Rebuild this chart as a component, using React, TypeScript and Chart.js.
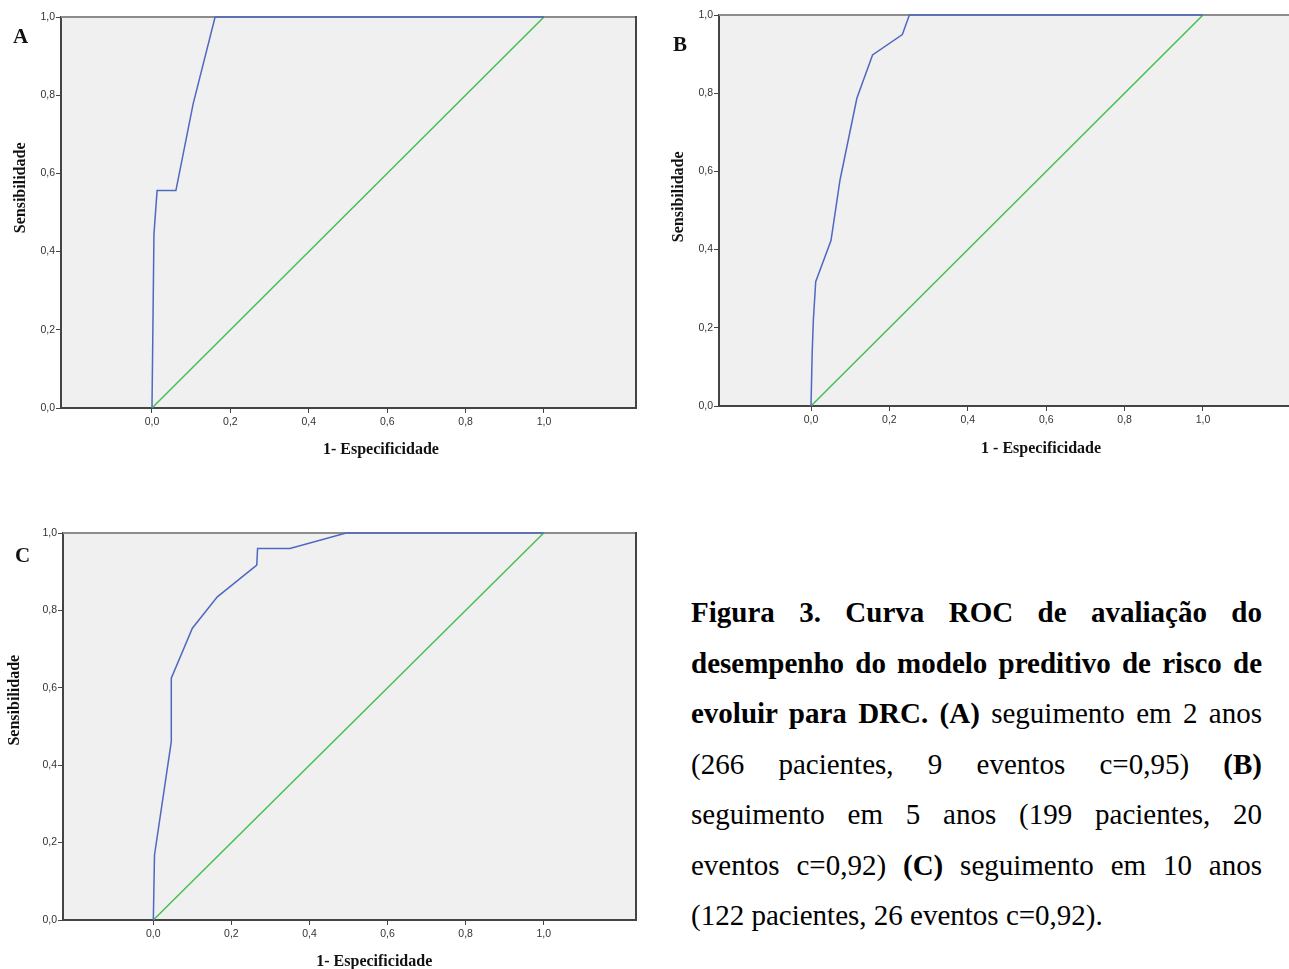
import React, { useEffect, useRef } from 'react';
import { Chart, registerables } from 'chart.js';

Chart.register(...registerables);

// ---- data ----
const tickValues = [0, 0.2, 0.4, 0.6, 0.8, 1.0];
const diagX = [0, 1];
const diagY = [0, 1];

const rocAx = [0, 0.005, 0.013, 0.061, 0.105, 0.161, 1.0];
const rocAy = [0, 0.444, 0.556, 0.556, 0.778, 1.0, 1.0];

const rocBx = [0, 0.003, 0.006, 0.012, 0.051, 0.074, 0.117, 0.157, 0.233, 0.251, 1.0];
const rocBy = [0, 0.135, 0.22, 0.318, 0.423, 0.578, 0.787, 0.898, 0.95, 1.0, 1.0];

const rocCx = [0, 0.003, 0.046, 0.046, 0.1, 0.164, 0.265, 0.267, 0.35, 0.494, 1.0];
const rocCy = [0, 0.168, 0.461, 0.625, 0.754, 0.835, 0.917, 0.96, 0.96, 1.0, 1.0];

const yTitle = 'Sensibilidade';

const BLUE = '#5068c0';
const GREEN = '#45c050';
const TICK_FONT = { family: '"Liberation Sans", Arial, sans-serif', size: 10.5 };
const TITLE_FONT = 'bold 16px "Liberation Serif", "Times New Roman", serif';

const fmt = (v: number) => v.toFixed(1).replace('.', ',');

const framePlugin = {
  id: 'frame',
  beforeDraw(chart: any) {
    const { ctx, chartArea: a } = chart;
    ctx.save();
    ctx.fillStyle = '#f0f0f0';
    ctx.fillRect(a.left, a.top, a.right - a.left, a.bottom - a.top);
    ctx.restore();
  },
  beforeDatasetsDraw(chart: any, _args: any, opts: any) {
    const { ctx, chartArea: a } = chart;
    ctx.save();
    ctx.lineWidth = 2;
    ctx.strokeStyle = '#8c8c8c';
    ctx.beginPath();
    ctx.moveTo(a.left, a.top);
    ctx.lineTo(a.right + 1, a.top);
    ctx.stroke();
    if (opts.rightBorder) {
      ctx.strokeStyle = '#444';
      ctx.beginPath();
      ctx.moveTo(a.right, a.top - 1);
      ctx.lineTo(a.right, a.bottom);
      ctx.stroke();
    }
    ctx.restore();
  },
  afterDraw(chart: any, _args: any, opts: any) {
    const { ctx } = chart;
    const xs = chart.scales.x;
    const ys = chart.scales.y;
    ctx.save();
    ctx.font = TITLE_FONT;
    ctx.fillStyle = '#111';
    ctx.textAlign = 'center';
    ctx.textBaseline = 'alphabetic';
    ctx.fillText(opts.xTitle, xs.getPixelForValue(opts.xTitleAt), opts.xTitleY);
    ctx.translate(opts.yTitleX, ys.getPixelForValue(opts.yTitleAt));
    ctx.rotate(-Math.PI / 2);
    ctx.fillText(opts.yTitle, 0, 0);
    ctx.restore();
  },
};

type RocProps = {
  left: number; top: number; width: number; height: number;
  padTop: number; padRight: number; yAxisWidth: number; xAxisHeight: number;
  xMin: number; xMax: number;
  rocX: number[]; rocY: number[];
  xTitle: string; xTitleAt: number; xTitleY: number;
  yTitleAt: number; yTitleX: number; rightBorder: boolean;
};

function RocChart(p: RocProps) {
  const ref = useRef<HTMLCanvasElement>(null);
  useEffect(() => {
    if (!ref.current) return;
    const axisCommon = {
      type: 'linear' as const,
      afterBuildTicks: (s: any) => { s.ticks = tickValues.map((v) => ({ value: v })); },
      ticks: {
        font: TICK_FONT, color: '#333', autoSkip: false, maxRotation: 0,
        callback: (v: any) => fmt(Number(v)),
      },
      grid: { drawOnChartArea: false, drawTicks: true, tickLength: 5, color: '#444', lineWidth: 1 },
      border: { display: true, color: '#444', width: 2 },
    };
    const chart = new Chart(ref.current, {
      type: 'line',
      data: {
        datasets: [
          {
            data: p.rocX.map((x, i) => ({ x, y: p.rocY[i] })),
            borderColor: BLUE, borderWidth: 1.5, pointRadius: 0, tension: 0, fill: false, clip: false,
          },
          {
            data: diagX.map((x, i) => ({ x, y: diagY[i] })),
            borderColor: GREEN, borderWidth: 1.5, pointRadius: 0, tension: 0, fill: false, clip: false,
          },
        ],
      },
      options: {
        animation: false,
        responsive: false,
        layout: { padding: { top: p.padTop, right: p.padRight, left: 0, bottom: 0 } },
        plugins: {
          legend: { display: false },
          tooltip: { enabled: false },
          frame: {
            xTitle: p.xTitle, xTitleAt: p.xTitleAt, xTitleY: p.xTitleY,
            yTitle, yTitleAt: p.yTitleAt, yTitleX: p.yTitleX, rightBorder: p.rightBorder,
          },
        } as any,
        scales: {
          x: {
            ...axisCommon, min: p.xMin, max: p.xMax,
            ticks: { ...axisCommon.ticks, padding: 3 },
            afterFit: (s: any) => { s.height = p.xAxisHeight; },
          },
          y: {
            ...axisCommon, min: 0, max: 1,
            ticks: { ...axisCommon.ticks, padding: 1 },
            afterFit: (s: any) => { s.width = p.yAxisWidth; },
          },
        } as any,
      },
      plugins: [framePlugin as any],
    });
    return () => chart.destroy();
  }, []);
  return (
    <canvas
      ref={ref}
      width={p.width}
      height={p.height}
      style={{ position: 'absolute', left: p.left, top: p.top, width: p.width, height: p.height }}
    />
  );
}

const letterStyle: React.CSSProperties = {
  position: 'absolute',
  fontFamily: '"Liberation Serif", "Times New Roman", serif',
  fontWeight: 'bold',
  fontSize: 21,
  lineHeight: '21px',
  color: '#111',
};

const lineJ: React.CSSProperties = { textAlign: 'justify', textAlignLast: 'justify', whiteSpace: 'nowrap' as any };

export default function App() {
  return (
    <div style={{ position: 'absolute', left: 0, top: 0, width: 1289, height: 969, overflow: 'hidden', background: '#fff' }}>
      <RocChart
        left={0} top={0} width={645} height={465}
        padTop={17} padRight={9} yAxisWidth={61} xAxisHeight={57}
        xMin={-0.2321} xMax={1.2347}
        rocX={rocAx} rocY={rocAy}
        xTitle="1- Especificidade" xTitleAt={0.584} xTitleY={454}
        yTitleAt={0.563} yTitleX={25} rightBorder={true}
      />
      <RocChart
        left={658} top={0} width={631} height={465}
        padTop={15} padRight={0} yAxisWidth={61} xAxisHeight={59}
        xMin={-0.2347} xMax={1.2194}
        rocX={rocBx} rocY={rocBy}
        xTitle="1 - Especificidade" xTitleAt={0.587} xTitleY={453}
        yTitleAt={0.535} yTitleX={25} rightBorder={false}
      />
      <RocChart
        left={2} top={516} width={641} height={453}
        padTop={17} padRight={7} yAxisWidth={61} xAxisHeight={49}
        xMin={-0.2314} xMax={1.2365}
        rocX={rocCx} rocY={rocCy}
        xTitle="1- Especificidade" xTitleAt={0.566} xTitleY={450}
        yTitleAt={0.568} yTitleX={17} rightBorder={true}
      />
      <div style={{ ...letterStyle, left: 13, top: 26 }}>A</div>
      <div style={{ ...letterStyle, left: 673, top: 34 }}>B</div>
      <div style={{ ...letterStyle, left: 15, top: 545 }}>C</div>
      <div
        style={{
          position: 'absolute', left: 691, top: 587, width: 571,
          fontFamily: '"Liberation Serif", "Times New Roman", serif',
          fontSize: 29, lineHeight: '50.5px', color: '#000',
        }}
      >
        <div style={lineJ}><b>Figura 3. Curva ROC de avaliação do</b></div>
        <div style={lineJ}><b>desempenho do modelo preditivo de risco de</b></div>
        <div style={lineJ}><b>evoluir para DRC. (A)</b> seguimento em 2 anos</div>
        <div style={lineJ}>(266 pacientes, 9 eventos c=0,95) <b>(B)</b></div>
        <div style={lineJ}>seguimento em 5 anos (199 pacientes, 20</div>
        <div style={lineJ}>eventos c=0,92) <b>(C)</b> seguimento em 10 anos</div>
        <div style={{ textAlign: 'left' }}>(122 pacientes, 26 eventos c=0,92).</div>
      </div>
    </div>
  );
}
